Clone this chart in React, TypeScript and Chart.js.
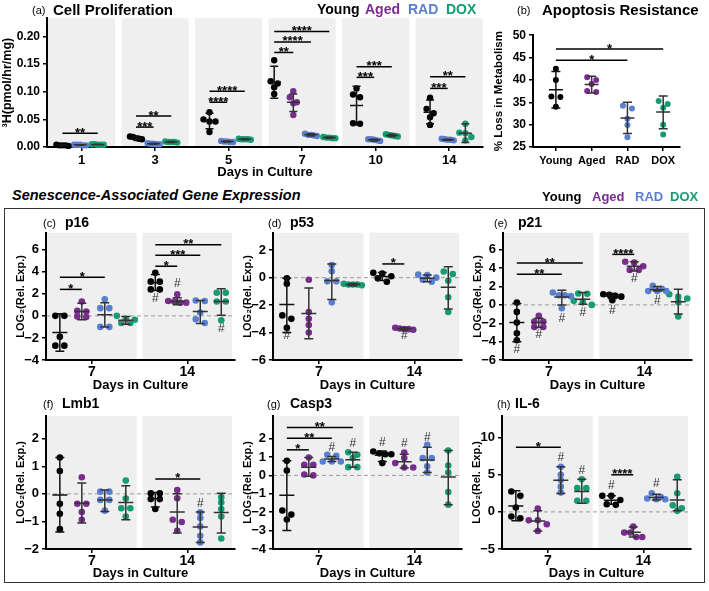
import React, { useEffect, useRef } from 'react';
import { Chart, registerables } from 'chart.js';

Chart.register(...registerables);
Chart.defaults.font.family = "'Liberation Sans', Arial, Helvetica, sans-serif";

// ---------- categories ----------
const GROUPS = ['Young', 'Aged', 'RAD', 'DOX'];
const GROUP_COLORS = ['#000000', '#7a2c8f', '#5a7fd0', '#169b72'];
const PROLIF_DAYS = ['1', '3', '5', '7', '10', '14'];
const GENE_DAYS = ['7', '14'];
const APOP_LABELS = ['Young', 'Aged', 'RAD', 'DOX'];

// ---------- tick labels ----------
const PROLIF_TICKS = [0, 0.05, 0.1, 0.15, 0.2];
const APOP_TICKS = [25, 30, 35, 40, 45, 50];
const P16_TICKS = [-4, -2, 0, 2, 4, 6];
const P53_TICKS = [-6, -4, -2, 0, 2];
const P21_TICKS = [-6, -4, -2, 0, 2, 4, 6];
const LMB1_TICKS = [-2, -1, 0, 1, 2];
const CASP3_TICKS = [-4, -3, -2, -1, 0, 1, 2];
const IL6_TICKS = [-5, 0, 5, 10];

// ---------- (a) Cell proliferation (per day: 1,3,5,7,10,14) ----------
const PROLIF_YOUNG = [
  [0.004, 0.003, 0.003, 0.002, 0.003],
  [0.019, 0.018, 0.016, 0.015, 0.014],
  [0.063, 0.05, 0.046, 0.046, 0.027],
  [0.157, 0.119, 0.115, 0.108, 0.096],
  [0.106, 0.095, 0.09, 0.043, 0.042],
  [0.089, 0.069, 0.061, 0.054, 0.04],
];
const PROLIF_AGED_D7 = [0.101, 0.09, 0.081, 0.079, 0.058];
const PROLIF_RAD = [
  [0.004, 0.004, 0.003, 0.004, 0.003],
  [0.007, 0.006, 0.005, 0.006, 0.005],
  [0.011, 0.01, 0.009, 0.01, 0.009],
  [0.024, 0.022, 0.021, 0.02, 0.022],
  [0.014, 0.012, 0.013, 0.011, 0.014],
  [0.015, 0.013, 0.013, 0.012, 0.014],
];
const PROLIF_DOX = [
  [0.005, 0.004, 0.004, 0.004, 0.005],
  [0.01, 0.009, 0.009, 0.008, 0.009],
  [0.015, 0.014, 0.013, 0.014, 0.014],
  [0.017, 0.016, 0.017, 0.016, 0.018],
  [0.023, 0.021, 0.02, 0.019, 0.022],
  [0.042, 0.026, 0.025, 0.018, 0.012],
];
// [mean, low, high]
const PROLIF_SUM_YOUNG = [[0.003, 0.002, 0.004], [0.016, 0.014, 0.019], [0.046, 0.033, 0.061], [0.118, 0.088, 0.146], [0.075, 0.04, 0.11], [0.063, 0.042, 0.085]];
const PROLIF_SUM_AGED_D7 = [0.081, 0.064, 0.096];
const PROLIF_SUM_RAD = [[0.004, 0.003, 0.004], [0.006, 0.005, 0.007], [0.01, 0.009, 0.011], [0.022, 0.02, 0.024], [0.013, 0.011, 0.014], [0.013, 0.012, 0.014]];
const PROLIF_SUM_DOX = [[0.004, 0.004, 0.005], [0.009, 0.008, 0.01], [0.014, 0.013, 0.015], [0.017, 0.016, 0.018], [0.021, 0.019, 0.023], [0.025, 0.008, 0.042]];
// [day, group1, group2, y, label]
const PROLIF_SIG: [number, number, number, number, string][] = [
  [0, 0, 3, 0.025, '**'], [1, 0, 2, 0.036, '***'], [1, 0, 3, 0.056, '**'],
  [2, 0, 2, 0.081, '****'], [2, 0, 3, 0.101, '****'],
  [3, 0, 1, 0.171, '**'], [3, 0, 2, 0.19, '****'], [3, 0, 3, 0.209, '****'],
  [4, 0, 2, 0.126, '***'], [4, 0, 3, 0.145, '***'],
  [5, 0, 2, 0.106, '***'], [5, 0, 3, 0.127, '**'],
];

// ---------- (b) Apoptosis resistance ----------
const APOP_POINTS = [
  [42.5, 40.0, 36.3, 36.2, 34.0],
  [40.6, 40.0, 39.1, 37.5, 37.3],
  [34.2, 33.6, 31.3, 29.9, 27.2],
  [35.3, 34.6, 33.8, 30.0, 27.8],
];
const APOP_MEAN = [37.8, 39.0, 31.5, 32.8];
const APOP_LOW = [33.7, 37.1, 28.0, 29.1];
const APOP_HIGH = [41.9, 40.8, 35.0, 36.4];
const APOP_SIG: [number, number, number, string][] = [[0, 2, 44.4, '*'], [0, 3, 46.9, '*']];

// ---------- gene panels: order D7 Young, Aged, RAD, DOX, D14 Young, Aged, RAD, DOX ----------
const P16_POINTS = [
  [0.0, 0.0, -1.9, -2.7, -2.7], [1.3, 0.45, 0.4, -0.05, -0.1], [1.5, 0.7, 0.7, -1.0, -1.0], [0.0, -0.3, -0.35, -0.65, -0.65],
  [3.9, 3.1, 3.1, 2.4, 2.4], [1.95, 1.35, 1.3, 1.2, 1.2], [1.4, 1.35, 0.3, -0.3, -0.65], [2.1, 2.1, 1.3, 1.3, -0.4],
];
const P16_MEAN = [-1.5, 0.4, 0.1, -0.4, 3.0, 1.3, 0.4, 1.3];
const P16_LOW = [-3.2, -0.35, -1.0, -0.75, 2.3, 1.0, -0.7, 0.05];
const P16_HIGH = [0.2, 1.15, 1.2, -0.05, 3.75, 1.65, 1.4, 2.45];
const P16_SIG: [number, number, number, number, string][] = [[0, 0, 1, 2.4, '*'], [0, 0, 2, 3.5, '*'], [1, 0, 1, 4.5, '*'], [1, 0, 2, 5.5, '***'], [1, 0, 3, 6.45, '**']];
const P16_HASH: [number, number, number][] = [[1, 0, 1.6], [1, 1, 2.9], [1, 3, -1.2]];

const P53_POINTS = [
  [-0.05, -0.45, -2.75, -3.0, -3.65], [-0.15, -2.5, -3.0, -3.45, -4.0], [0.92, 0.46, -0.27, -0.27, -1.8], [-0.45, -0.5, -0.5, -0.55, -0.5],
  [0.35, 0.3, 0.1, -0.05, -0.3], [-3.65, -3.7, -3.75, -3.75, -3.8], [0.22, 0.2, 0.0, -0.15, -0.3], [0.45, 0.27, -0.22, -1.43, -2.5],
];
const P53_MEAN = [-1.95, -2.62, -0.2, -0.5, 0.08, -3.73, -0.05, -0.69];
const P53_LOW = [-4.0, -4.45, -1.6, -0.58, -0.2, -3.8, -0.3, -2.28];
const P53_HIGH = [-0.05, -0.75, 1.0, -0.42, 0.38, -3.65, 0.2, 0.8];
const P53_SIG: [number, number, number, number, string][] = [[1, 0, 1, 1.0, '*']];
const P53_HASH: [number, number, number][] = [[0, 0, -4.2], [1, 1, -4.2]];

const P21_POINTS = [
  [0.25, -0.76, -1.93, -3.1, -3.85], [-1.2, -1.8, -1.8, -2.4, -2.4], [1.35, 1.05, 1.05, 0.95, -0.36], [1.24, 1.2, 0.44, 0.3, 0.0],
  [1.16, 1.1, 1.0, 0.9, 0.5], [4.7, 4.6, 4.2, 3.8, 3.8], [2.07, 1.75, 1.5, 1.5, 1.5], [1.16, 0.87, 0.7, 0.3, -1.27],
];
const P21_MEAN = [-1.93, -1.93, 0.87, 0.62, 1.0, 4.22, 1.66, 0.35];
const P21_LOW = [-4.0, -2.47, 0.0, 0.07, 0.7, 3.7, 1.5, -1.0];
const P21_HIGH = [0.15, -1.45, 1.6, 1.35, 1.25, 4.7, 2.0, 1.7];
const P21_SIG: [number, number, number, number, string][] = [[0, 0, 2, 3.35, '**'], [0, 0, 3, 4.55, '**'], [1, 0, 1, 5.5, '****']];
const P21_HASH: [number, number, number][] = [[0, 0, -4.9], [0, 1, -3.2], [0, 2, -1.45], [0, 3, -0.84], [1, 0, -0.65], [1, 1, 2.8], [1, 2, 0.44]];

const LMB1_POINTS = [
  [1.32, 0.83, -0.36, -0.72, -1.28], [0.6, -0.36, -0.36, -0.66, -0.94], [0.08, 0.08, -0.22, -0.22, -0.61], [0.48, -0.17, -0.52, -0.52, -0.82],
  [0.02, 0.02, -0.19, -0.19, -0.55], [0.14, -0.16, -0.94, -1.02, -1.34], [-0.67, -0.88, -1.18, -1.52, -1.76], [-0.12, -0.31, -0.55, -0.82, -1.62],
];
const LMB1_MEAN = [-0.04, -0.34, -0.22, -0.31, -0.18, -0.66, -1.2, -0.68];
const LMB1_LOW = [-1.38, -1.06, -0.64, -0.94, -0.48, -1.42, -1.76, -1.42];
const LMB1_HIGH = [1.32, 0.39, 0.14, 0.29, 0.05, 0.0, -0.66, 0.02];
const LMB1_SIG: [number, number, number, number, string][] = [[1, 0, 2, 0.54, '*']];
const LMB1_HASH: [number, number, number][] = [[1, 2, -0.34]];

const CASP3_POINTS = [
  [0.79, 0.27, -1.91, -2.13, -2.4], [0.97, 0.58, 0.58, 0.05, 0.0], [1.12, 1.06, 0.76, 0.76, 0.76], [1.26, 1.12, 0.95, 0.45, 0.45],
  [1.3, 1.2, 1.15, 1.15, 0.67], [1.24, 0.95, 0.67, 0.43, 0.43], [1.66, 0.94, 0.94, 0.5, 0.16], [1.35, 0.54, 0.16, -0.9, -1.59],
];
const CASP3_MEAN = [-1.08, 0.44, 0.89, 0.85, 1.09, 0.74, 0.84, -0.09];
const CASP3_LOW = [-3.0, -0.05, 0.76, 0.45, 0.76, 0.4, 0.16, -1.59];
const CASP3_HIGH = [0.8, 0.97, 1.03, 1.26, 1.33, 1.15, 1.53, 1.35];
const CASP3_SIG: [number, number, number, number, string][] = [[0, 0, 1, 1.39, '*'], [0, 0, 2, 2.02, '**'], [0, 0, 3, 2.6, '**']];
const CASP3_HASH: [number, number, number][] = [[0, 2, 1.53], [0, 3, 1.7], [1, 0, 1.8], [1, 1, 1.7], [1, 2, 2.07]];

const IL6_POINTS = [
  [2.75, 2.16, 0.59, -0.63, -0.86], [0.45, -1.13, -1.13, -1.67, -2.57], [6.08, 5.0, 4.3, 3.4, 2.6], [4.4, 3.2, 3.2, 1.49, 1.49],
  [2.16, 2.16, 1.6, 0.95, 1.04], [-1.98, -2.79, -2.79, -3.38, -3.38], [2.52, 2.0, 1.8, 1.71, 1.71], [4.73, 2.52, 0.9, 0.5, 0.14],
];
const IL6_MEAN = [0.8, -1.21, 4.28, 2.76, 1.58, -2.75, 1.95, 1.62];
const IL6_LOW = [-1.2, -2.57, 2.48, 1.17, 1.04, -3.38, 1.62, 0.14];
const IL6_HIGH = [2.84, 0.14, 6.08, 4.41, 2.16, -2.03, 2.39, 4.32];
const IL6_SIG: [number, number, number, number, string][] = [[0, 0, 2, 8.7, '*'], [1, 0, 1, 5.0, '****']];
const IL6_HASH: [number, number, number][] = [[0, 2, 7.25], [0, 3, 5.54], [1, 0, 3.5], [1, 2, 3.74]];

// ---------- layout constants ----------
const BAND_COLOR = '#efefef';
const BAR_COLOR = '#333333';
const PROLIF_OFF4 = [-0.38, -0.12, 0.12, 0.37];
const PROLIF_OFF3 = [-0.26, 0, -0.02, 0.22];
const GENE_OFF = [-0.335, -0.105, 0.136, 0.356];

type Entry = { x: number; color: string; pts: number[]; mean: number; lo: number; hi: number };
type Spec = {
  canvas: { l: number; t: number; w: number; h: number };
  plot: { l: number; t: number; r: number; b: number };
  xMin: number; xMax: number; yMin: number; yMax: number;
  yTicks: number[]; yFmt: (v: number) => string; yFont: number;
  xTicks: number[]; xLabels: string[]; xFont: number; xTickPad: number;
  bands: [number, number][]; zero: boolean;
  entries: Entry[];
  sig: { x1: number; x2: number; y: number; label: string }[];
  hash: { x: number; y: number }[];
  yTitle: string; yTitleX: number; yTitleSize: number;
  xTitle?: string; xTitleY?: number;
  meanHalf: number; capHalf: number; r: number; swarmGap: number; swarmHalf: number;
};

function swarm(vals: number[], pxY: number, gap: number, maxHalf: number): number[] {
  const idx = vals.map((_, i) => i).sort((a, b) => vals[b] - vals[a]);
  const rows: number[][] = [];
  let cur: number[] = [];
  for (const i of idx) {
    if (cur.length && Math.abs(vals[cur[0]] - vals[i]) * pxY > 5) {
      rows.push(cur);
      cur = [];
    }
    cur.push(i);
  }
  if (cur.length) rows.push(cur);
  const off = new Array(vals.length).fill(0);
  rows.forEach((r) => {
    const n = r.length;
    const sp = n > 1 ? Math.min(gap, (2 * maxHalf) / (n - 1)) : 0;
    r.forEach((i, k) => (off[i] = (k - (n - 1) / 2) * sp));
  });
  return off;
}

function makeConfig(s: Spec): any {
  const pw = s.plot.r - s.plot.l;
  const ph = s.plot.b - s.plot.t;
  const pxX = pw / (s.xMax - s.xMin);
  const pxY = ph / (s.yMax - s.yMin);
  const padTop = s.plot.t - s.canvas.t;
  const padRight = s.canvas.l + s.canvas.w - s.plot.r;
  const yW = s.plot.l - s.canvas.l;
  const xH = s.canvas.t + s.canvas.h - s.plot.b;
  const yLH = s.yTitleSize * 1.2;
  const xTitleSize = 13;
  const xLH = xTitleSize * 1.2;

  const datasets = s.entries.map((e) => {
    const off = swarm(e.pts, pxY, s.swarmGap, s.swarmHalf);
    return {
      type: 'scatter',
      data: e.pts.map((v, i) => ({ x: e.x + off[i] / pxX, y: v })),
      backgroundColor: e.color,
      borderColor: e.color,
      borderWidth: 0,
      pointRadius: s.r,
      pointHoverRadius: s.r,
      clip: false,
    };
  });

  const deco = {
    id: 'deco',
    beforeDraw(chart: any) {
      const { ctx, chartArea: a, scales } = chart;
      const x = scales.x, y = scales.y;
      ctx.save();
      ctx.fillStyle = BAND_COLOR;
      for (const [b0, b1] of s.bands) {
        const x0 = x.getPixelForValue(b0);
        const x1 = x.getPixelForValue(b1);
        ctx.fillRect(x0, a.top, x1 - x0, a.bottom - a.top);
      }
      if (s.zero) {
        const y0 = y.getPixelForValue(0);
        ctx.strokeStyle = '#9a9a9a';
        ctx.lineWidth = 1;
        ctx.setLineDash([4, 3]);
        ctx.beginPath();
        ctx.moveTo(a.left, y0);
        ctx.lineTo(a.right, y0);
        ctx.stroke();
      }
      ctx.restore();
    },
    afterDatasetsDraw(chart: any) {
      const { ctx, scales } = chart;
      const x = scales.x, y = scales.y;
      ctx.save();
      ctx.lineWidth = 1.5;
      for (const e of s.entries) {
        const px = x.getPixelForValue(e.x);
        const ym = y.getPixelForValue(e.mean);
        const yl = y.getPixelForValue(e.lo);
        const yh = y.getPixelForValue(e.hi);
        ctx.strokeStyle = e.color === '#000000' ? '#111' : BAR_COLOR;
        ctx.beginPath();
        ctx.moveTo(px, yl);
        ctx.lineTo(px, yh);
        ctx.moveTo(px - s.capHalf, yl);
        ctx.lineTo(px + s.capHalf, yl);
        ctx.moveTo(px - s.capHalf, yh);
        ctx.lineTo(px + s.capHalf, yh);
        ctx.moveTo(px - s.meanHalf, ym);
        ctx.lineTo(px + s.meanHalf, ym);
        ctx.stroke();
      }
      ctx.strokeStyle = '#000';
      ctx.fillStyle = '#000';
      ctx.font = "bold 13px 'Liberation Sans', Arial, sans-serif";
      ctx.textAlign = 'center';
      ctx.textBaseline = 'alphabetic';
      for (const g of s.sig) {
        const x1 = x.getPixelForValue(g.x1);
        const x2 = x.getPixelForValue(g.x2);
        const yy = y.getPixelForValue(g.y);
        ctx.beginPath();
        ctx.moveTo(x1, yy);
        ctx.lineTo(x2, yy);
        ctx.stroke();
        ctx.fillText(g.label, (x1 + x2) / 2, yy + 3.5);
      }
      ctx.fillStyle = '#333';
      ctx.font = "12px 'Liberation Sans', Arial, sans-serif";
      ctx.textBaseline = 'middle';
      for (const h of s.hash) {
        ctx.fillText('#', x.getPixelForValue(h.x), y.getPixelForValue(h.y));
      }
      ctx.restore();
    },
  };

  return {
    type: 'scatter',
    data: { datasets },
    plugins: [deco],
    options: {
      responsive: false,
      animation: false,
      events: [],
      layout: { padding: { left: 0, top: padTop, right: padRight, bottom: 0 } },
      plugins: { legend: { display: false }, tooltip: { enabled: false } },
      scales: {
        x: {
          type: 'linear',
          min: s.xMin,
          max: s.xMax,
          afterFit: (sc: any) => { sc.height = xH; },
          afterBuildTicks: (sc: any) => { sc.ticks = s.xTicks.map((v) => ({ value: v })); },
          ticks: {
            autoSkip: false,
            maxRotation: 0,
            padding: s.xTickPad,
            color: '#000',
            font: { size: s.xFont, weight: 'bold' },
            callback: (_v: any, i: number) => s.xLabels[i],
          },
          grid: { display: true, drawOnChartArea: false, drawTicks: true, tickLength: 4, color: '#000', lineWidth: 1.5 },
          border: { display: true, color: '#000', width: 2 },
          title: s.xTitle
            ? {
                display: true,
                text: s.xTitle,
                color: '#000',
                font: { size: xTitleSize, weight: 'bold' },
                padding: { top: 0, bottom: s.canvas.t + s.canvas.h - (s.xTitleY as number) - xLH / 2 },
              }
            : { display: false },
        },
        y: {
          type: 'linear',
          min: s.yMin,
          max: s.yMax,
          afterFit: (sc: any) => { sc.width = yW; },
          afterBuildTicks: (sc: any) => { sc.ticks = s.yTicks.map((v) => ({ value: v })); },
          ticks: {
            autoSkip: false,
            padding: 3,
            color: '#000',
            font: { size: s.yFont, weight: 'bold' },
            callback: (v: any) => s.yFmt(Number(v)),
          },
          grid: { display: true, drawOnChartArea: false, drawTicks: true, tickLength: 4, color: '#000', lineWidth: 1.5 },
          border: { display: true, color: '#000', width: 2 },
          title: {
            display: true,
            text: s.yTitle,
            color: '#000',
            font: { size: s.yTitleSize, weight: 'bold' },
            padding: { top: s.yTitleX - s.canvas.l - yLH / 2, bottom: 0 },
          },
        },
      },
    },
  };
}

function ChartBox({ spec }: { spec: Spec }) {
  const ref = useRef<HTMLCanvasElement>(null);
  useEffect(() => {
    const chart = new Chart(ref.current as HTMLCanvasElement, makeConfig(spec));
    return () => chart.destroy();
  }, []);
  const c = spec.canvas;
  return (
    <canvas
      ref={ref}
      width={c.w}
      height={c.h}
      style={{ position: 'absolute', left: c.l, top: c.t, width: c.w, height: c.h }}
    />
  );
}

// ---------- spec builders ----------
const minusFmt = (v: number) => (v < 0 ? '\u2212' + Math.abs(v) : String(v));

function prolifX(day: number, g: number) {
  return day + (day === 3 ? PROLIF_OFF4[g] : PROLIF_OFF3[g]);
}

function prolifSpec(): Spec {
  const entries: Entry[] = [];
  PROLIF_DAYS.forEach((_, d) => {
    const add = (g: number, pts: number[], sum: number[]) =>
      entries.push({ x: prolifX(d, g), color: GROUP_COLORS[g], pts, mean: sum[0], lo: sum[1], hi: sum[2] });
    add(0, PROLIF_YOUNG[d], PROLIF_SUM_YOUNG[d]);
    if (d === 3) add(1, PROLIF_AGED_D7, PROLIF_SUM_AGED_D7);
    add(2, PROLIF_RAD[d], PROLIF_SUM_RAD[d]);
    add(3, PROLIF_DOX[d], PROLIF_SUM_DOX[d]);
  });
  return {
    canvas: { l: 0, t: 8, w: 491, h: 172 },
    plot: { l: 47, t: 18, r: 483, b: 147 },
    xMin: -0.47, xMax: 5.46, yMin: 0, yMax: 0.233,
    yTicks: PROLIF_TICKS, yFmt: (v) => v.toFixed(2), yFont: 12,
    xTicks: PROLIF_DAYS.map((_, i) => i), xLabels: PROLIF_DAYS, xFont: 13, xTickPad: 2,
    bands: PROLIF_DAYS.map((_, i) => [i - 0.456, i + 0.456] as [number, number]),
    zero: false,
    entries,
    sig: PROLIF_SIG.map(([d, g1, g2, y, label]) => ({ x1: prolifX(d, g1), x2: prolifX(d, g2), y, label })),
    hash: [],
    yTitle: '\u00b3H(pmol/hr/mg)', yTitleX: 8, yTitleSize: 12.5,
    xTitle: 'Days in Culture', xTitleY: 172,
    meanHalf: 6.5, capHalf: 4, r: 3.2, swarmGap: 7, swarmHalf: 6,
  };
}

function apopSpec(): Spec {
  return {
    canvas: { l: 488, t: 25, w: 212, h: 145 },
    plot: { l: 533, t: 35, r: 680, b: 147 },
    xMin: -0.64, xMax: 3.47, yMin: 25, yMax: 50,
    yTicks: APOP_TICKS, yFmt: (v) => String(v), yFont: 12,
    xTicks: [0, 1, 2, 3], xLabels: APOP_LABELS, xFont: 11, xTickPad: 3,
    bands: [], zero: false,
    entries: APOP_POINTS.map((pts, g) => ({ x: g, color: GROUP_COLORS[g], pts, mean: APOP_MEAN[g], lo: APOP_LOW[g], hi: APOP_HIGH[g] })),
    sig: APOP_SIG.map(([g1, g2, y, label]) => ({ x1: g1, x2: g2, y, label })),
    hash: [],
    yTitle: '% Loss in Metabolism', yTitleX: 499, yTitleSize: 11.5,
    meanHalf: 7, capHalf: 4.5, r: 3, swarmGap: 9, swarmHalf: 8,
  };
}

function geneSpec(
  plotL: number, plotT: number, plotB: number, yMin: number, yMax: number, yTicks: number[],
  points: number[][], mean: number[], low: number[], high: number[],
  sig: [number, number, number, number, string][], hash: [number, number, number][], xTitleY: number,
): Spec {
  const plotR = plotL + 189;
  return {
    canvas: { l: plotL - 38, t: plotT - 10, w: 38 + 189 + 8, h: 10 + (plotB - plotT) + (xTitleY + 9 - plotB) },
    plot: { l: plotL, t: plotT, r: plotR, b: plotB },
    xMin: -0.48, xMax: 1.5, yMin, yMax,
    yTicks, yFmt: minusFmt, yFont: 13,
    xTicks: [0, 1], xLabels: GENE_DAYS, xFont: 14, xTickPad: 0,
    bands: [[-0.47, 0.47], [0.53, 1.47]], zero: true,
    entries: points.map((pts, k) => {
      const d = Math.floor(k / 4), g = k % 4;
      return { x: d + GENE_OFF[g], color: GROUP_COLORS[g], pts, mean: mean[k], lo: low[k], hi: high[k] };
    }),
    sig: sig.map(([d, g1, g2, y, label]) => ({ x1: d + GENE_OFF[g1], x2: d + GENE_OFF[g2], y, label })),
    hash: hash.map(([d, g, y]) => ({ x: d + GENE_OFF[g], y })),
    yTitle: 'LOG\u2082(Rel. Exp.)', yTitleX: plotL - 25, yTitleSize: 11,
    xTitle: 'Days in Culture', xTitleY,
    meanHalf: 7.5, capHalf: 4.5, r: 3.3, swarmGap: 9, swarmHalf: 9,
  };
}

const SPECS: Spec[] = [
  prolifSpec(),
  apopSpec(),
  geneSpec(46, 232, 360, -4, 7.53, P16_TICKS, P16_POINTS, P16_MEAN, P16_LOW, P16_HIGH, P16_SIG, P16_HASH, 385),
  geneSpec(273, 232, 360, -6, 3.27, P53_TICKS, P53_POINTS, P53_MEAN, P53_LOW, P53_HIGH, P53_SIG, P53_HASH, 385),
  geneSpec(503, 232, 360, -6, 7.85, P21_TICKS, P21_POINTS, P21_MEAN, P21_LOW, P21_HIGH, P21_SIG, P21_HASH, 385),
  geneSpec(46, 415, 549, -2, 2.83, LMB1_TICKS, LMB1_POINTS, LMB1_MEAN, LMB1_LOW, LMB1_HIGH, LMB1_SIG, LMB1_HASH, 573),
  geneSpec(273, 415, 549, -4, 3.24, CASP3_TICKS, CASP3_POINTS, CASP3_MEAN, CASP3_LOW, CASP3_HIGH, CASP3_SIG, CASP3_HASH, 573),
  geneSpec(502, 415, 549, -5, 12.95, IL6_TICKS, IL6_POINTS, IL6_MEAN, IL6_LOW, IL6_HIGH, IL6_SIG, IL6_HASH, 573),
];

// ---------- HTML text ----------
const FONT = "'Liberation Sans', Arial, Helvetica, sans-serif";
function Txt({ x, y, size, bold, italic, color, children }: any) {
  return (
    <div
      style={{
        position: 'absolute', left: x, top: y, transform: 'translateY(-50%)', whiteSpace: 'nowrap',
        fontFamily: FONT, fontSize: size, fontWeight: bold ? 'bold' : 'normal', fontStyle: italic ? 'italic' : 'normal',
        color: color || '#000', lineHeight: 1,
      }}
    >
      {children}
    </div>
  );
}

const TOP_LEGEND_X = [317, 365, 408, 446];
const GENE_LEGEND_X = [542, 592, 635, 670];
const PANEL_TITLES: [string, string, number, number, number][] = [
  ['(c)', 'p16', 43, 65, 222], ['(d)', 'p53', 268, 290, 222], ['(e)', 'p21', 494, 518, 222],
  ['(f)', 'Lmb1', 43, 62, 403], ['(g)', 'Casp3', 267, 290, 403], ['(h)', 'IL-6', 497, 515, 403],
];

export default function App() {
  return (
    <div style={{ position: 'absolute', left: 0, top: 0, width: 709, height: 591, background: '#fff', overflow: 'hidden' }}>
      <div style={{ position: 'absolute', left: 4, top: 208, width: 701, height: 375, border: '1.5px solid #333', boxSizing: 'border-box' }} />
      {SPECS.map((s, i) => (
        <ChartBox key={i} spec={s} />
      ))}
      <Txt x={32} y={10} size={11}>(a)</Txt>
      <Txt x={53} y={9} size={15} bold>Cell Proliferation</Txt>
      {GROUPS.map((g, i) => (
        <Txt key={g} x={TOP_LEGEND_X[i]} y={9} size={14} bold color={GROUP_COLORS[i]}>{g}</Txt>
      ))}
      <Txt x={517} y={10} size={11}>(b)</Txt>
      <Txt x={542} y={9} size={15} bold>Apoptosis Resistance</Txt>
      <Txt x={12} y={195} size={14.5} bold italic>Senescence-Associated Gene Expression</Txt>
      {GROUPS.map((g, i) => (
        <Txt key={'l' + g} x={GENE_LEGEND_X[i]} y={196} size={13} bold color={GROUP_COLORS[i]}>{g}</Txt>
      ))}
      {PANEL_TITLES.map(([tag, name, x1, x2, y]) => (
        <React.Fragment key={tag}>
          <Txt x={x1} y={y + 1} size={11}>{tag}</Txt>
          <Txt x={x2} y={y} size={14} bold>{name}</Txt>
        </React.Fragment>
      ))}
    </div>
  );
}
